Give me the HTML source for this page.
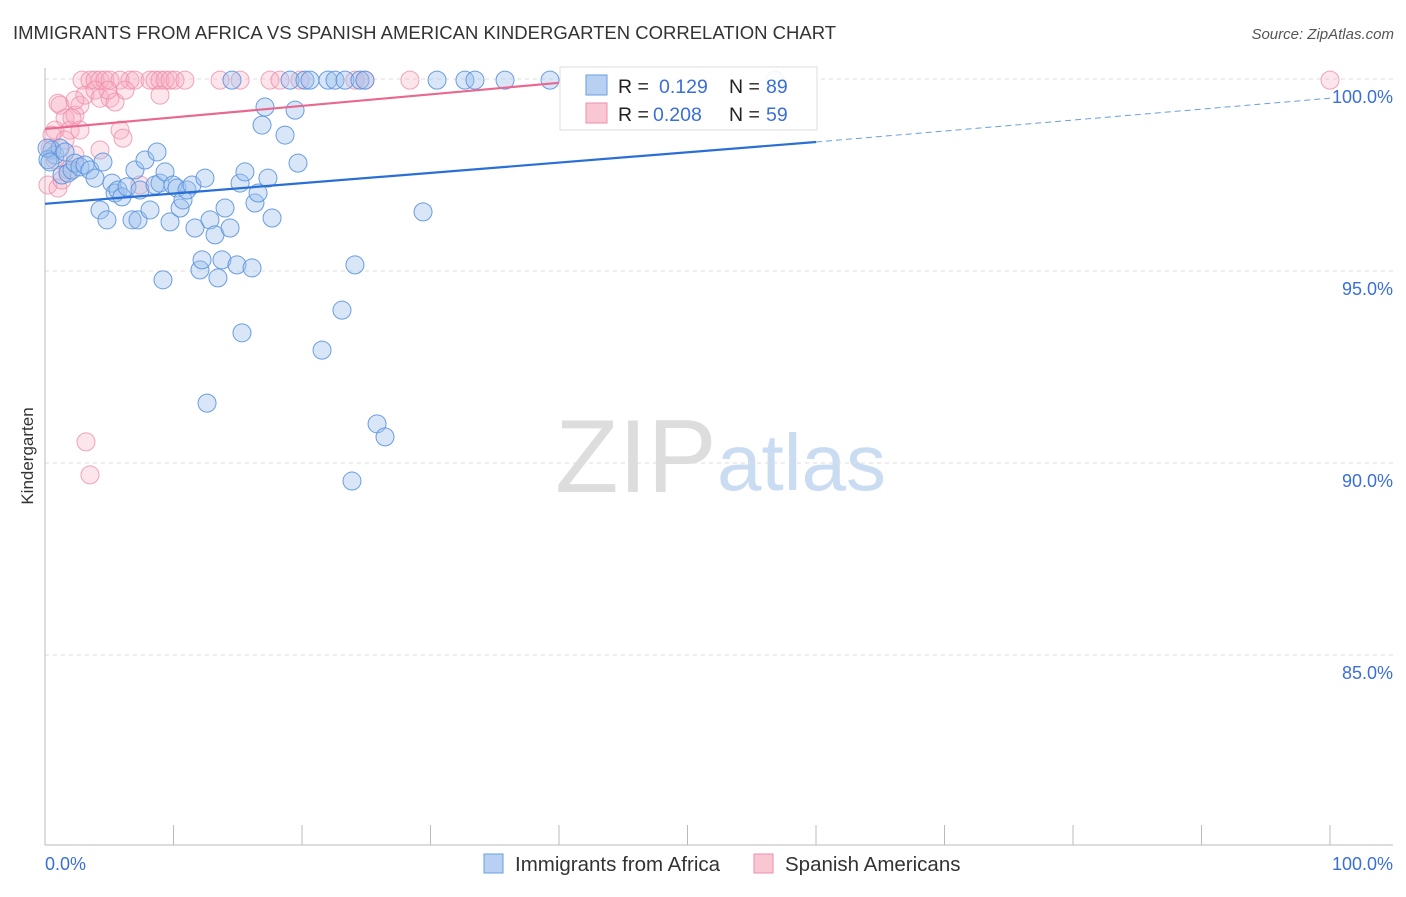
<!DOCTYPE html>
<html><head><meta charset="utf-8"><style>
body{margin:0;background:#fff;font-family:"Liberation Sans",sans-serif}
svg text{font-family:"Liberation Sans",sans-serif}
</style></head><body>
<svg width="1406" height="892">
<text x="13" y="39" font-size="18.5" fill="#333">IMMIGRANTS FROM AFRICA VS SPANISH AMERICAN KINDERGARTEN CORRELATION CHART</text>
<text x="1394" y="39" font-size="15" fill="#555" font-style="italic" text-anchor="end">Source: ZipAtlas.com</text>
<text x="555" y="492" font-size="104" fill="#ddd" font-family="Liberation Serif,serif">ZIP</text>
<text x="717" y="490" font-size="80" fill="#c9dcf2">atlas</text>
<text x="33" y="456" font-size="17" fill="#333" text-anchor="middle" transform="rotate(-90 33 456)">Kindergarten</text>
<g id="grid"></g><g id="axes"></g><g id="pts"></g><g id="lines"></g>
<g>
<rect x="560" y="67" width="257" height="63" fill="#fff" fill-opacity="0.9" stroke="#ddd"/>
<rect x="586" y="75" width="21" height="20" fill="#b8d1f3" stroke="#6a9ee0"/>
<rect x="586" y="103" width="21" height="20" fill="#f9c6d4" stroke="#ee8faa"/>
<text x="618" y="93" font-size="19.5" fill="#222">R = </text><text x="659" y="93" font-size="19.5" fill="#3a6fd8">0.129</text>
<text x="729" y="93" font-size="19.5" fill="#222">N = </text><text x="766" y="93" font-size="19.5" fill="#3a6fd8">89</text>
<text x="618" y="121" font-size="19.5" fill="#222">R = </text><text x="653" y="121" font-size="19.5" fill="#3a6fd8">0.208</text>
<text x="729" y="121" font-size="19.5" fill="#222">N = </text><text x="766" y="121" font-size="19.5" fill="#3a6fd8">59</text>
</g>
<g>
<rect x="484" y="854" width="19" height="19" fill="#b8d1f3" stroke="#6a9ee0"/>
<text x="515" y="871" font-size="20.5" fill="#333">Immigrants from Africa</text>
<rect x="754" y="854" width="19" height="19" fill="#f9c6d4" stroke="#ee8faa"/>
<text x="785" y="871" font-size="20.5" fill="#333">Spanish Americans</text>
</g>
</svg>
<script>
const yTicks=[100,95,90,85];
const xTickLabels=["0.0%","100.0%"];
const blueX=[0.54,0.78,1.17,1.56,0.23,1.32,1.79,2.1,2.33,2.72,3.11,3.5,3.89,4.28,4.51,4.82,5.21,5.45,5.68,5.99,6.38,6.77,7.0,7.24,7.39,7.78,8.17,8.56,8.72,8.95,9.18,9.34,9.73,9.96,10.27,10.51,10.74,11.05,11.44,11.67,12.06,12.22,12.45,12.61,12.84,13.23,13.46,13.77,14.01,14.4,14.55,14.94,15.18,15.33,15.56,16.11,16.34,16.58,16.89,17.12,17.35,17.67,18.68,19.07,19.46,19.69,20.23,20.62,21.56,22.02,22.57,23.11,23.35,23.89,24.12,24.51,24.9,25.84,26.46,29.42,30.51,32.68,33.46,35.8,39.3,56.8,0.16,0.39];
const blueY=[98.15,98.02,98.2,98.1,97.9,97.5,97.55,97.63,97.81,97.71,97.76,97.63,97.42,96.59,97.84,96.33,97.29,97.03,97.11,96.93,97.19,96.33,97.63,96.33,97.11,97.89,96.59,97.24,98.1,97.29,94.77,97.58,96.28,97.24,97.16,96.64,96.85,97.11,97.24,96.12,95.03,95.29,97.42,91.56,96.33,95.94,94.82,95.29,96.64,96.12,99.97,95.16,97.29,93.39,97.58,95.08,96.77,97.03,98.8,99.27,97.42,96.38,98.54,99.97,99.19,97.81,99.97,99.97,92.94,99.97,99.97,93.98,99.97,89.53,95.16,99.97,99.97,91.02,90.68,96.54,99.97,99.97,99.97,99.97,99.97,99.97,98.2,97.84];
const pinkX=[2.88,3.5,3.89,4.28,4.67,5.06,5.84,6.61,7.0,8.17,8.56,8.95,9.34,9.73,10.12,10.89,13.62,15.18,17.51,18.29,19.84,24.12,24.9,28.4,100,1.17,1.56,1.95,2.33,2.72,3.11,3.89,4.28,5.06,5.45,5.84,6.07,8.95,0.78,0.54,0.39,0.23,1.01,1.32,1.79,2.33,3.19,3.5,7.39,1.01,2.1,4.9,6.23,2.33,1.56,0.78,2.72,4.28];
const pinkY=[99.97,99.97,99.97,99.97,99.97,99.97,99.97,99.97,99.97,99.97,99.97,99.97,99.97,99.97,99.97,99.97,99.97,99.97,99.97,99.97,99.97,99.97,99.97,99.97,99.97,99.32,98.98,98.67,99.06,99.32,99.58,99.71,99.5,99.5,99.4,98.67,98.46,99.58,98.67,98.54,98.2,97.24,97.16,97.37,97.63,98.02,90.55,89.69,97.24,99.37,98.98,99.71,99.71,99.45,98.41,97.89,98.67,98.15];
const blueTrend=[96.75,98.36];const blueTrendX=[0,60];const blueTrendEnd=99.5;
const pinkTrend=[98.7,99.9];const pinkTrendX=[0,40];
const xs=v=>45+v*12.85, ys=v=>79+(100-v)*38.4;
const NS="http://www.w3.org/2000/svg";
function mk(tag,attrs,parent){const e=document.createElementNS(NS,tag);for(const k in attrs)e.setAttribute(k,attrs[k]);document.getElementById(parent).appendChild(e);return e;}
yTicks.forEach(t=>{
 const l=mk('line',{x1:45,x2:1393,y1:ys(t),y2:ys(t),stroke:'#ddd','stroke-dasharray':'4,4'},'grid');
 
 
 const tx=mk('text',{x:1393,y:ys(t)+24,'font-size':18,fill:'#3a6fd8','text-anchor':'end'},'grid');
 tx.textContent=t.toFixed(1)+'%';
 
 
});
mk('line',{x1:45,x2:45,y1:68,y2:845,stroke:'#bbb'},'axes');
mk('line',{x1:45,x2:1393,y1:845,y2:845,stroke:'#bbb'},'axes');
for(let i=1;i<=10;i++){const l=mk('line',{x1:xs(i*10),x2:xs(i*10),y1:825,y2:845,stroke:'#bbb'},'axes');
 
 }
const t0=mk('text',{x:45,y:870,'font-size':18,fill:'#3a6fd8'},'axes');t0.textContent=xTickLabels[0];


const t1=mk('text',{x:1393,y:870,'font-size':18,fill:'#3a6fd8','text-anchor':'end'},'axes');t1.textContent=xTickLabels[1];


pinkX.forEach((x,i)=>{const c=mk('circle',{cx:xs(x),cy:ys(pinkY[i]),r:9,fill:'#f7a8c0','fill-opacity':0.3,stroke:'#ee8faa','stroke-opacity':0.8},'pts');
 
 });
blueX.forEach((x,i)=>{const c=mk('circle',{cx:xs(x),cy:ys(blueY[i]),r:9,fill:'#9dc0ee','fill-opacity':0.4,stroke:'#5b93dd','stroke-opacity':0.9},'pts');
 
 });
const bl=mk('line',{x1:xs(blueTrendX[0]),y1:ys(blueTrend[0]),x2:xs(blueTrendX[1]),y2:ys(blueTrend[1]),stroke:'#2a6fd6','stroke-width':2.2},'lines');


const bd=mk('line',{x1:xs(blueTrendX[1]),y1:ys(blueTrend[1]),x2:xs(100),y2:ys(blueTrendEnd),stroke:'#6a9ee0','stroke-width':1,'stroke-dasharray':'6,4'},'lines');


const pl=mk('line',{x1:xs(pinkTrendX[0]),y1:ys(pinkTrend[0]),x2:xs(pinkTrendX[1]),y2:ys(pinkTrend[1]),stroke:'#e8688f','stroke-width':2.2},'lines');


</script>
</body></html>
